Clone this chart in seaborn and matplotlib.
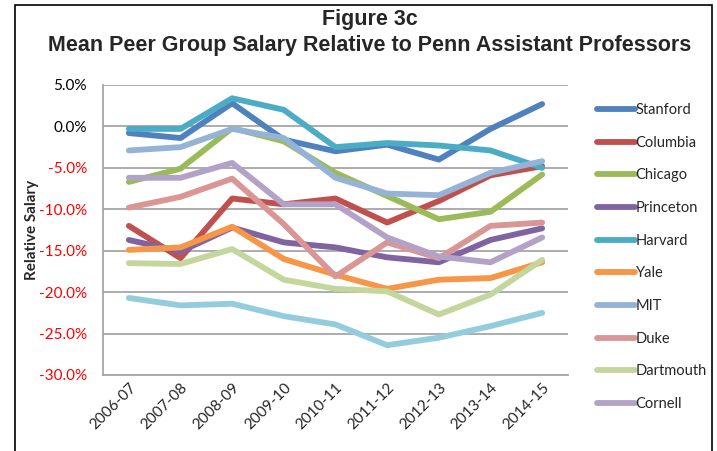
import matplotlib
matplotlib.use("Agg")
import matplotlib.pyplot as plt
import seaborn as sns
import pandas as pd
from matplotlib.patches import Rectangle

years = ["2006-07", "2007-08", "2008-09", "2009-10", "2010-11",
         "2011-12", "2012-13", "2013-14", "2014-15"]

stanford = [-0.8, -1.4, 2.8, -1.6, -3.0, -2.2, -4.0, -0.3, 2.7]
columbia = [-12.0, -15.9, -8.7, -9.4, -8.7, -11.6, -9.0, -5.9, -4.8]
chicago = [-6.7, -5.1, -0.2, -1.8, -5.6, -8.4, -11.2, -10.3, -5.8]
princeton = [-13.7, -15.1, -12.2, -14.0, -14.6, -15.8, -16.4, -13.7, -12.3]
harvard = [-0.3, -0.3, 3.4, 2.0, -2.5, -2.0, -2.3, -2.9, -5.0]
yale = [-14.9, -14.6, -12.1, -16.0, -17.9, -19.6, -18.5, -18.3, -16.4]
mit = [-2.9, -2.5, -0.3, -1.4, -6.2, -8.1, -8.3, -5.6, -4.2]
duke = [-9.8, -8.5, -6.3, -11.8, -18.1, -14.0, -15.9, -12.0, -11.6]
dartmouth = [-16.5, -16.6, -14.8, -18.5, -19.6, -19.9, -22.7, -20.3, -16.1]
cornell = [-6.2, -6.2, -4.4, -9.4, -9.4, -13.4, -15.7, -16.4, -13.4]
unlabeled = [-20.7, -21.6, -21.4, -22.9, -23.9, -26.4, -25.5, -24.1, -22.5]

series_names = ["Stanford", "Columbia", "Chicago", "Princeton", "Harvard", "Yale",
                "MIT", "Duke", "Dartmouth", "Cornell", "Other"]
series_values = [stanford, columbia, chicago, princeton, harvard, yale,
                 mit, duke, dartmouth, cornell, unlabeled]
colors = ["#4F81BD", "#C0504D", "#9BBB59", "#8064A2", "#4BACC6", "#F79646",
          "#95B3D7", "#D99694", "#C3D69B", "#B3A2C7", "#93CDDD"]

yticks = [5, 0, -5, -10, -15, -20, -25, -30]
ytick_labels = ["5.0%", "0.0%", "-5.0%", "-10.0%", "-15.0%", "-20.0%", "-25.0%", "-30.0%"]

rows = []
for name, vals in zip(series_names, series_values):
    for i, (yr, v) in enumerate(zip(years, vals)):
        rows.append({"school": name, "x": i, "year": yr, "value": v})
df = pd.DataFrame(rows)

sns.set_theme(style="white")
plt.rcParams["font.family"] = ["Lato", "DejaVu Sans"]

fig = plt.figure(figsize=(7.17, 4.51), dpi=100)
ax = fig.add_axes([103 / 717, 1 - 375 / 451, (568 - 103) / 717, (375 - 85) / 451])

sns.lineplot(data=df, x="x", y="value", hue="school", hue_order=series_names,
             palette=colors, linewidth=4.2, ax=ax, legend=True,
             solid_capstyle="round", solid_joinstyle="round")

ax.set_xlim(-0.5, 8.5)
ax.set_ylim(-30, 5)
ax.set_yticks(yticks)
ax.set_yticklabels(ytick_labels)
for lab, v in zip(ax.get_yticklabels(), yticks):
    lab.set_color("black" if v >= 0 else "#FF0000")
    lab.set_fontsize(11)
ax.set_xticks(range(len(years)))
ax.set_xticklabels(years, rotation=45, ha="right", rotation_mode="anchor", fontsize=11)
ax.tick_params(axis="y", length=0, pad=11.5)
ax.tick_params(axis="x", length=0, pad=4)
ax.grid(axis="y", color="#A6A6A6", linewidth=1.3)
ax.set_axisbelow(True)
for s in ["top", "right"]:
    ax.spines[s].set_visible(False)
for s in ["left", "bottom"]:
    ax.spines[s].set_color("#A6A6A6")
    ax.spines[s].set_linewidth(1.3)
ax.set_xlabel("")
ax.set_ylabel("Relative Salary", fontsize=11, fontweight="bold", labelpad=0)

handles, labels = ax.get_legend_handles_labels()
keep = [(h, l) for h, l in zip(handles, labels) if l != "Other"]
for h, _ in keep:
    h.set_linewidth(4.2)
    h.set_solid_capstyle("round")
ax.legend([h for h, _ in keep], [l for _, l in keep], loc="upper left",
          bbox_to_anchor=(597 / 717, 1 - 103 / 451), bbox_transform=fig.transFigure,
          frameon=False, fontsize=10.5, handlelength=2.6, handletextpad=0.05,
          labelspacing=1.28, borderpad=0, borderaxespad=0)

fig.text(370 / 717, 1 - 20 / 451, "Figure 3c", ha="center", va="center",
         fontsize=15.5, fontweight="bold", family=["Liberation Sans", "DejaVu Sans"])
fig.text(370 / 717, 1 - 45 / 451, "Mean Peer Group Salary Relative to Penn Assistant Professors",
         ha="center", va="center", fontsize=15.5, fontweight="bold",
         family=["Liberation Sans", "DejaVu Sans"])

fig.patches.append(Rectangle((15 / 717, -0.1), (712 - 15) / 717, 1.1 - 5 / 451,
                             transform=fig.transFigure, fill=False,
                             edgecolor="black", linewidth=1.2))

fig.savefig("out.png", dpi=100)
